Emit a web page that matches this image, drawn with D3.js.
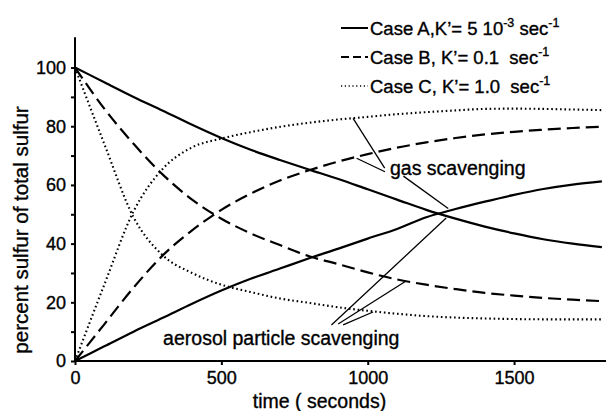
<!DOCTYPE html>
<html>
<head>
<meta charset="utf-8">
<script src="https://cdn.jsdelivr.net/npm/d3@7"></script>
<style>
  body { margin: 0; background: #fff; }
  svg { display: block; font-family: "Liberation Sans", Arial, sans-serif; }
  text { fill: #000; stroke: #000; stroke-width: 0.35px; }
</style>
</head>
<body>
<svg id="chart"></svg>
<script>
// time samples (seconds)
const times = [0, 100, 200, 300, 400, 500, 600, 700, 800, 900, 1000, 1100, 1200, 1300, 1400, 1500, 1600, 1700, 1800];

// percent sulfur
const gasA = [0, 5, 10, 14.7, 19.5, 24, 28, 31.5, 35, 38.3, 41.7, 45, 49, 51.8, 54.3, 56.6, 58.6, 60.1, 61.2];
const aeroA = [100, 95, 90, 85.3, 80.5, 76, 72, 68.5, 65.2, 62, 58.5, 55, 51.5, 48.5, 45.8, 43.5, 41.5, 40, 38.8];
const gasB = [0, 12.5, 25, 36, 44.5, 51.5, 57, 61.5, 65, 68, 70.5, 72.7, 74.5, 76, 77.2, 78.1, 78.8, 79.4, 79.8];
const aeroB = [100, 86, 74, 63.5, 55, 48.5, 43.5, 39.5, 35.7, 33, 30.2, 27.8, 26, 24.5, 23.2, 22.3, 21.5, 20.9, 20.4];
const gasC = [0, 26, 51, 65.5, 72.8, 75.8, 78, 79.8, 81.2, 82.3, 83.2, 84.1, 84.8, 85.4, 85.9, 86, 85.9, 85.7, 85.5];
const aeroC = [100, 74, 49, 36, 30, 26, 23.5, 21.3, 19.8, 18.3, 17.1, 16.1, 15.3, 14.8, 14.5, 14.3, 14.2, 14.2, 14.2];

const xTicks = [0, 500, 1000, 1500];
const yTicks = [0, 10, 20, 30, 40, 50, 60, 70, 80, 90, 100];

// leader lines, [t, percent] pairs
const gasLeaders = [
  [[950, 82.7], [1058, 65.7]],
  [[962, 69.1], [1059, 64.5]],
  [[1122, 63], [1275, 52]],
];
const aeroLeaders = [
  [[876, 12.3], [1268, 48.7]],
  [[899, 12.6], [1127, 27]],
  [[916, 12.3], [1018, 16.7]],
];

const width = 607, height = 411;
const svg = d3.select("#chart").attr("width", width).attr("height", height);

const x = d3.scaleLinear().domain([0, 1800]).range([75, 601.9]);
const y = d3.scaleLinear().domain([0, 110]).range([361, 38.2]);

const styles = {
  solid: { width: 2.2, dash: null },
  dashed: { width: 2.2, dash: "13,6" },
  dotted: { width: 2.1, dash: "1.6,2.8" },
};

const series = [
  { values: aeroA, style: "solid" },
  { values: gasA, style: "solid" },
  { values: aeroB, style: "dashed" },
  { values: gasB, style: "dashed" },
  { values: aeroC, style: "dotted" },
  { values: gasC, style: "dotted" },
];

const line = d3
  .line()
  .x((d) => x(d[0]))
  .y((d) => y(d[1]))
  .curve(d3.curveMonotoneX);

// axes
const xAxis = svg
  .append("g")
  .attr("transform", `translate(0, ${y(0)})`)
  .call(
    d3
      .axisBottom(x)
      .tickValues(xTicks)
      .tickSize(4)
      .tickPadding(6)
      .tickSizeOuter(0)
      .tickFormat(d3.format("d"))
  );
xAxis.select(".domain").attr("d", `M${x(0)},0H606`);

const yAxis = svg
  .append("g")
  .attr("transform", `translate(${x(0)}, 0)`)
  .call(
    d3
      .axisLeft(y)
      .tickValues(yTicks)
      .tickSize(4)
      .tickPadding(5)
      .tickSizeOuter(0)
      .tickFormat((d) => (d % 20 === 0 ? d : ""))
  );
yAxis.select(".domain").attr("d", `M0,${y(0)}V${y(110) - 1}`);

svg.selectAll(".domain, .tick line").attr("stroke", "#000").attr("stroke-width", 2);
svg.selectAll(".tick text").attr("fill", "#000").style("font-size", "18px");

// curves
svg
  .append("g")
  .attr("fill", "none")
  .attr("stroke", "#000")
  .selectAll("path")
  .data(series)
  .join("path")
  .attr("stroke-width", (d) => styles[d.style].width)
  .attr("stroke-dasharray", (d) => styles[d.style].dash)
  .attr("d", (d) => line(times.map((t, i) => [t, d.values[i]])));

// leader lines
svg
  .append("g")
  .attr("stroke", "#000")
  .attr("stroke-width", 1.3)
  .selectAll("line")
  .data(gasLeaders.concat(aeroLeaders))
  .join("line")
  .attr("x1", (d) => x(d[0][0]))
  .attr("y1", (d) => y(d[0][1]))
  .attr("x2", (d) => x(d[1][0]))
  .attr("y2", (d) => y(d[1][1]));

svg
  .append("text")
  .attr("x", x(1076))
  .attr("y", y(63.4))
  .style("font-size", "19.5px")
  .text("gas scavenging");

svg
  .append("text")
  .attr("x", x(301))
  .attr("y", y(5.5))
  .style("font-size", "19.5px")
  .text("aerosol particle scavenging");

// axis titles
svg
  .append("text")
  .attr("x", 319.5)
  .attr("y", 408)
  .attr("text-anchor", "middle")
  .style("font-size", "19.5px")
  .text("time ( seconds)");

svg
  .append("text")
  .attr("transform", "translate(28, 230) rotate(-90)")
  .attr("text-anchor", "middle")
  .style("font-size", "20.5px")
  .text("percent sulfur of total sulfur");

// legend
const legendRows = [
  { style: "solid", parts: [["Case A,K’= 5 10", false], ["-3", true], [" sec", false], ["-1", true]] },
  { style: "dashed", parts: [["Case B, K’= 0.1  sec", false], ["-1", true]] },
  { style: "dotted", parts: [["Case C, K’= 1.0  sec", false], ["-1", true]] },
];
const legendDash = { solid: null, dashed: "8,4", dotted: "1.2,2.6" };

const legend = svg
  .append("g")
  .selectAll("g")
  .data(legendRows)
  .join("g")
  .attr("transform", (_, i) => `translate(341, ${35 + i * 29})`);

legend
  .append("line")
  .attr("x1", 0)
  .attr("x2", 27)
  .attr("y1", -7)
  .attr("y2", -7)
  .attr("stroke", "#000")
  .attr("stroke-width", (d) => (d.style === "dotted" ? 1.4 : 2))
  .attr("stroke-dasharray", (d) => legendDash[d.style]);

legend
  .append("text")
  .attr("x", 29)
  .style("font-size", "18.5px")
  .style("white-space", "pre")
  .attr("xml:space", "preserve")
  .each(function (d) {
    const t = d3.select(this);
    d.parts.forEach(([s, sup], i) => {
      const prevSup = i > 0 && d.parts[i - 1][1];
      t.append("tspan")
        .attr("dy", sup ? -8 : prevSup ? 8 : 0)
        .style("font-size", sup ? "12.5px" : "18.5px")
        .text(s);
    });
  });
</script>
</body>
</html>
